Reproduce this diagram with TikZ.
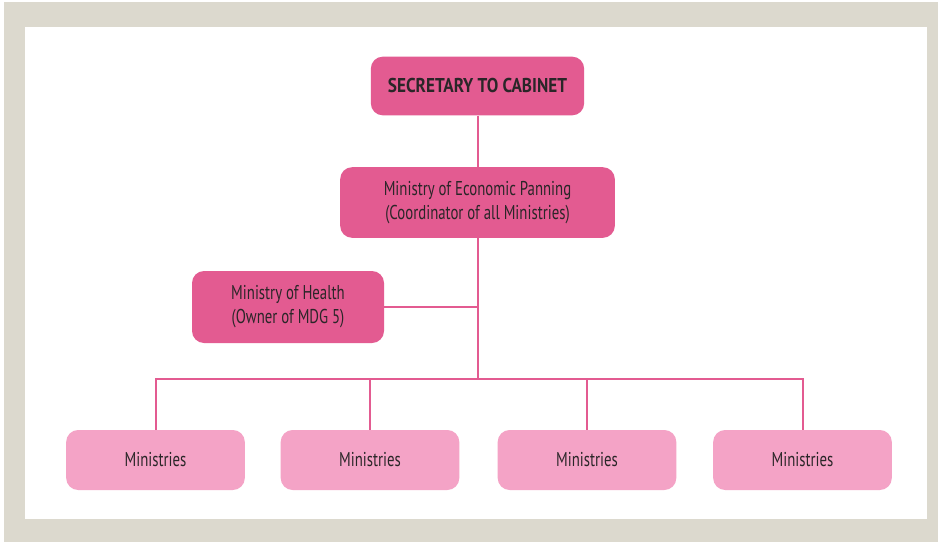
\documentclass[tikz,border=0pt]{standalone}
\usepackage{fontspec}
\setmainfont{PT Sans}[FakeStretch=0.74]
\newfontfamily\headfont{PT Sans}[FakeStretch=0.86]
\definecolor{frame}{HTML}{DCD9CE}
\definecolor{darkpink}{HTML}{E35B91}
\definecolor{lightpink}{HTML}{F4A3C6}
\definecolor{ink}{HTML}{2A2628}
\tikzset{
  box/.style={rounded corners=9pt, text=ink, align=center, font=\fontsize{15}{18}\selectfont, inner sep=0pt},
  mainbox/.style={box, fill=darkpink},
  subbox/.style={box, fill=lightpink, minimum width=134pt, minimum height=45pt},
  link/.style={darkpink, line width=1.5pt}
}

\begin{document}
\begin{tikzpicture}[x=0.75pt,y=-0.75pt]
    \useasboundingbox (0,0) rectangle (938,542);
    \fill[frame] (4,2) rectangle (938,542);
    \fill[white] (25,27) rectangle (927,519);
    \node[mainbox, minimum width=160pt, minimum height=44pt, font=\headfont\bfseries\fontsize{15}{18}\selectfont] (sec) at (477.5,86) {SECRETARY TO CABINET};
    \node[mainbox, minimum width=206pt, minimum height=53pt] (econ) at (477.5,202.5) {Ministry of Economic Panning\\(Coordinator of all Ministries)};
    \node[mainbox, minimum width=144pt, minimum height=54pt] (health) at (288,307) {Ministry of Health\\(Owner of MDG 5)};
    \node[subbox] (m1) at (155.5,460) {Ministries};
    \node[subbox] (m2) at (370,460) {Ministries};
    \node[subbox] (m3) at (587,460) {Ministries};
    \node[subbox] (m4) at (802.5,460) {Ministries};
    \coordinate (hub) at (477.5,307);
    \coordinate (bus) at (477.5,379);
    \draw[link] (sec) -- (econ);
    \draw[link] (econ) -- (bus);
    \draw[link] (health) -- (hub);
    \draw[link] (m1.north) -- (m1.north |- bus) -- (m4.north |- bus) -- (m4.north);
    \draw[link] (m2.north) -- (m2.north |- bus);
    \draw[link] (m3.north) -- (m3.north |- bus);
  \end{tikzpicture}
\end{document}
